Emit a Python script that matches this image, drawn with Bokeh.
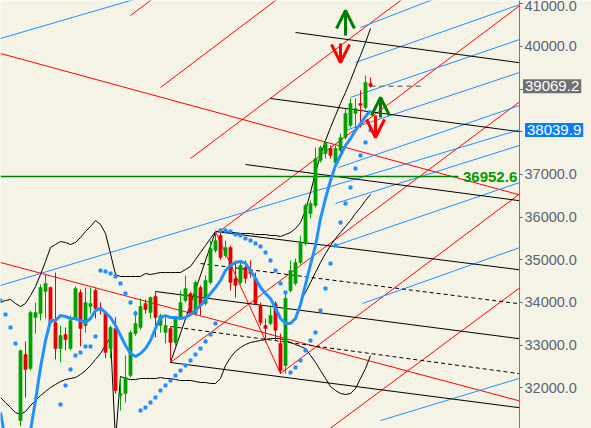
from bokeh.plotting import figure
from bokeh.models import (Range1d, FixedTicker, PrintfTickFormatter, Label,
                          Arrow, OpenHead, ColumnDataSource)
from bokeh.embed import file_html
from bokeh.resources import INLINE

nan = float("nan")

# ---------------- data ----------------
opens = [31230, 32780, 32450, 33650, 33740, 34260, 34350, 33530, 32920, 33250,
         32920, 33650, 34235, 33460, 33905, 34280, 33880, 33740, 32920, 33390,
         31820, 31865, 32290, 33270, 33415, 33975, 33765, 34140, 33460, 33295,
         33390, 33060, 33650, 34045, 34210, 33740, 34350, 33975, 34470, 35220,
         35570, 35100, 35290, 34560, 34470, 34820, 34750, 34560, 33930, 33460,
         33505, 33975, 33040, 32520, 34280, 34445, 34935, 35380, 36085, 36275,
         37330, 37490, 37610, 37280, 37560, 37865, 38150, 38430, 38665, 38570,
         39135]
highs = [32900, 33085, 33810, 34000, 34420, 34655, 34375, 34700, 33460, 33415,
         33695, 34375, 34305, 34350, 34350, 34330, 34000, 33760, 33460, 33650,
         32240, 32755, 33345, 33810, 34095, 34070, 34140, 34255, 33740, 33650,
         33435, 33670, 34280, 34630, 34255, 34515, 34400, 34630, 35450, 35685,
         35640, 35450, 35335, 34985, 34985, 34985, 34985, 34700, 34000, 33625,
         33930, 34025, 33270, 34235, 34985, 35030, 35570, 36320, 36390, 37630,
         37680, 37795, 37680, 37680, 37960, 38545, 38780, 38780, 38970, 39320,
         39275]
lows = [31100, 31770, 32405, 33270, 33580, 33625, 33460, 32665, 32595, 32875,
        32875, 33575, 32970, 33295, 33740, 33625, 33720, 32690, 32690, 31865,
        31470, 31655, 32240, 33225, 33365, 33740, 33625, 33180, 33295, 33040,
        32640, 32990, 33600, 34000, 33695, 33695, 33695, 33930, 34420, 35170,
        35005, 35055, 34280, 34115, 34420, 34445, 34585, 33930, 33460, 33060,
        33460, 33110, 32335, 32335, 34235, 34400, 34890, 35335, 35970, 36225,
        37280, 37375, 37375, 37210, 37515, 37820, 38100, 38080, 38100, 38525,
        39040]
closes = [32870, 32430, 33765, 33765, 34350, 34445, 33530, 32920, 33225, 33130,
          33575, 34330, 33390, 34000, 33975, 33860, 33835, 32830, 33415, 31935,
          31865, 32240, 33295, 33505, 33905, 33835, 34115, 33650, 33695, 33460,
          33060, 33625, 34000, 34325, 33740, 34470, 33930, 34515, 35265, 35450,
          35055, 35290, 34470, 34400, 34865, 34560, 34680, 33975, 33530, 33390,
          33695, 33345, 32405, 34095, 34750, 34935, 35405, 36275, 36320, 37375,
          37630, 37750, 37445, 37610, 37865, 38430, 38665, 38545, 38615, 39155,
          39069.2]
candle_idx = list(range(len(opens)))

# indicator values for bars -4 .. 70
ind_idx = list(range(-4, 71))
ma = [31421, 30764, 30413, 30296, 30343, 30530, 31000, 31702, 32476, 33108,
      33577, 33577, 33694, 33671, 33624, 33624, 33577, 33530, 33624, 33812,
      33859, 33765, 33648, 33460, 33226, 32991, 32804, 32734, 32804, 32921,
      33108, 33390, 33648, 33694, 33648, 33648, 33624, 33648, 33718, 33812,
      33929, 34070, 34210, 34351, 34515, 34749, 34867, 34937, 34960, 34914,
      34749, 34562, 34351, 34210, 34093, 33859, 33624, 33507, 33507, 33624,
      33952, 34421, 34890, 35335, 35968, 36437, 36859, 37211, 37445, 37679,
      37843, 38031, 38195, 38359, 38500]
band_upper = [33999, 34046, 34069, 33976, 33905, 33976, 34163, 34374, 34655, 34960,
              35288, 35359, 35429, 35406, 35359, 35406, 35523, 35663, 35781, 35921,
              35828, 35617, 35148, 34655, 34609, 34609, 34609, 34609, 34609, 34679,
              34655, 34679, 34702, 34702, 34702, 34702, 34702, 34773, 34843, 35007,
              35171, 35335, 35499, 35663, 35663, 35663, 35640, 35640, 35617, 35617,
              35617, 35593, 35593, 35593, 35570, 35570, 35546, 35593, 35640, 35734,
              35874, 36156, 36578, 37046, 37445, 37796, 38101, 38383, 38664, 38922,
              39203, 39508, 39789, 40094, 40422]
band_lower = [31772, 31655, 31538, 31421, 31374, 31444, 31585, 31702, 31819, 31913,
              32007, 32077, 32148, 32194, 32218, 32241, 32312, 32405, 32523, 32663,
              32804, 32991, 33179, 30764, 32265, 32218, 32194, 32194, 32218, 32218,
              32218, 32218, 32241, 32218, 32218, 32194, 32171, 32171, 32171, 32148,
              32124, 32124, 32101, 32101, 32218, 32523, 32710, 32851, 32944, 33015,
              33062, 33085, 33108, 33132, 33155, 33155, 33155, 33108, 33062, 33015,
              32968, 32921, 32757, 32593, 32405, 32218, 32030, 31936, 31866, 31843,
              31866, 31983, 32218, 32452, 32757]
sar = [34046, 33718, 33413, 33038, nan, nan, nan, nan, nan, nan,
       nan, nan, 31608, 32054, 32429, 32757, 32827, 32968, 32968, 33202,
       34749, 34726, 34679, 34609, 34445, 34210, 33999, 33741, 31468, 31538,
       31655, 31772, 31936, 32054, 32171, 32288, 32405, 32523, 32640, 32780,
       32921, 33085, 33249, 33507, 35687, 35687, 35663, 35593, 35570, 35500,
       35452, 35382, 35312, 35171, 34984, 34749, 34445, 34234, 32358, 32476,
       32640, 32874, 33108, 33296, 33812, 34327, 34913, 35335, 35874, 36320,
       36695, 37140, 37445, 37750, 38039.9]
curve2_idx = list(range(56, 71))
curve2 = [34046, 34233, 34468, 34702, 34937, 35148, 35335, 35499, 35640, 35781,
          35921, 36085, 36226, 36390, 36531]

price_ticks = [32000, 33000, 34000, 35000, 36000, 37000, 38000, 39000, 40000, 41000]
covered_ticks = [38000, 39000]      # hidden behind the price boxes
last_price = 39069.2
sar_last = 38039.9
level_price = 36952.6

# trend lines (bar index, price) -> (bar index, price)
red_lines = [(-4, 39836, 101, 36484), (-4, 34937, 101, 31655),
             (22, 40727, 27, 41166), (28, 39039, 53, 41256),
             (34, 37375, 78, 41254), (40, 35687, 101, 41060),
             (30, 32593, 101, 38805), (52, 32335, 101, 36648),
             (60, 30880, 101, 34445), (39, 35663, 52, 32335)]
black_lines = [(55, 40328, 101, 39601), (50, 38781, 101, 37984),
               (45, 37234, 101, 36367), (39, 35663, 101, 34749),
               (27, 34257, 101, 33132), (30, 32593, 101, 31515),
               (30, 32593, 39, 35663)]
black_dashed = [(36, 34913, 101, 33952), (30, 33437, 101, 32312)]
blue_lines = [(-4, 40188, 23, 41111), (-4, 34398, 101, 38090),
              (68, 40445, 83, 41125), (67, 39625, 101, 41031),
              (66, 38805, 101, 40211), (65, 38031, 101, 39437),
              (63.6, 37164, 101, 38664), (63, 36320, 101, 37726),
              (63, 35335, 101, 36859), (68.4, 33976, 101, 35335),
              (72, 31233, 101, 32265)]
up_arrows = [(65, 40258, 65, 40844), (72, 38336, 72, 38805)]
down_arrows = [(64, 40070, 64, 39625), (71, 38383, 71, 37867)]
level_span = (-4, 87.6)
bid_span = (70, 80)

# ---------------- layout / styles ----------------
BG = "#F5F3E6"
BLUE = "#1E90FF"
GREEN = "#00A000"
RED = "#E60000"
AXIS_TXT = "#5A6477"
AXIS_AT = 99.8          # bar-index position of the price scale line
X_START, X_END = -4, 114.2
Y_START, Y_END = 31046, 41078

p = figure(width=591, height=428,
           x_range=Range1d(X_START, X_END), y_range=Range1d(Y_START, Y_END),
           output_backend="svg", toolbar_location=None,
           x_axis_location=None, y_axis_location="right",
           min_border_left=0, min_border_top=0, min_border_bottom=0,
           min_border_right=0,
           background_fill_color=BG, border_fill_color=BG,
           outline_line_color=None)
p.xgrid.visible = False
p.ygrid.visible = False

ax = p.yaxis[0]
ax.fixed_location = AXIS_AT
ax.ticker = FixedTicker(ticks=price_ticks)
ax.formatter = PrintfTickFormatter(format="%.1f")
ax.major_label_overrides = {t: "" for t in covered_ticks}
ax.major_label_text_font = "Liberation Sans"
ax.major_label_text_font_size = "14.5px"
ax.major_label_text_color = AXIS_TXT
ax.axis_line_color = "#7F7F3F"
ax.major_tick_line_color = AXIS_TXT
ax.major_tick_out = 3
ax.major_tick_in = 0
ax.minor_tick_out = 0
ax.minor_tick_in = 0
ax.major_label_standoff = 2


def clipped(lines):
    out = []
    for x0, y0, x1, y1 in lines:
        if x1 > AXIS_AT:
            y1 = y0 + (y1 - y0) * (AXIS_AT - x0) / (x1 - x0)
            x1 = AXIS_AT
        out.append((x0, y0, x1, y1))
    return out


def seg(lines, color, dash="solid", width=1):
    lines = clipped(lines)
    p.segment(x0=[l[0] for l in lines], y0=[l[1] for l in lines],
              x1=[l[2] for l in lines], y1=[l[3] for l in lines],
              line_color=color, line_width=width, line_dash=dash)


seg(red_lines, "#FF0000")
seg(blue_lines, BLUE)
seg(black_lines, "black")
seg(black_dashed, "black", dash="4 3")

# level line and bid line
p.line(list(level_span), [level_price, level_price], line_color="#008000", line_width=1.5)
p.line(list(bid_span), [last_price, last_price], line_color="#808080", line_width=1.5, line_dash="5 4")

# bands
p.line(ind_idx, band_upper, line_color="black", line_width=1)
p.line(ind_idx, band_lower, line_color="black", line_width=1)
p.line(curve2_idx, curve2, line_color="black", line_width=1)

# candles
colors = [GREEN if c >= o else RED for o, c in zip(opens, closes)]
p.segment(x0=candle_idx, y0=highs, x1=candle_idx, y1=lows, line_color=colors, line_width=1)
p.vbar(x=candle_idx, top=[max(o, c) for o, c in zip(opens, closes)],
       bottom=[min(o, c) for o, c in zip(opens, closes)], width=0.65,
       fill_color=colors, line_color=colors, line_width=0.5)

# moving average and SAR
p.line(ind_idx, ma, line_color=BLUE, line_width=3)
p.scatter(ind_idx, sar, marker="square", size=3, color=BLUE)

# arrows
for arrows, col in ((up_arrows, "#008000"), (down_arrows, "#FF0000")):
    src = ColumnDataSource(dict(xs=[a[0] for a in arrows], ys=[a[1] for a in arrows],
                                xe=[a[2] for a in arrows], ye=[a[3] for a in arrows]))
    p.add_layout(Arrow(end=OpenHead(size=18, line_color=col, line_width=3),
                       x_start="xs", y_start="ys", x_end="xe", y_end="ye",
                       source=src, line_color=col, line_width=3))

# labels
p.add_layout(Label(x=100.5, y=last_price, text=f"{last_price:.1f}",
                   text_baseline="middle", text_align="left",
                   text_font="Liberation Sans", text_font_size="15px",
                   text_color="white", background_fill_color="#707070",
                   background_fill_alpha=1.0, padding=2, level="overlay"))
p.add_layout(Label(x=100.9, y=sar_last, text=f"{sar_last:.1f}",
                   text_baseline="middle", text_align="left",
                   text_font="Liberation Sans", text_font_size="15px",
                   text_color="white", background_fill_color="#0A7CFF",
                   background_fill_alpha=1.0, padding=2, level="overlay"))
p.add_layout(Label(x=88.5, y=level_price, text=f"{level_price:.1f}",
                   text_baseline="middle", text_align="left",
                   text_font="Liberation Sans", text_font_style="bold",
                   text_font_size="15px", text_color="#009A00"))

open("out.html", "w").write(file_html(p, INLINE))
